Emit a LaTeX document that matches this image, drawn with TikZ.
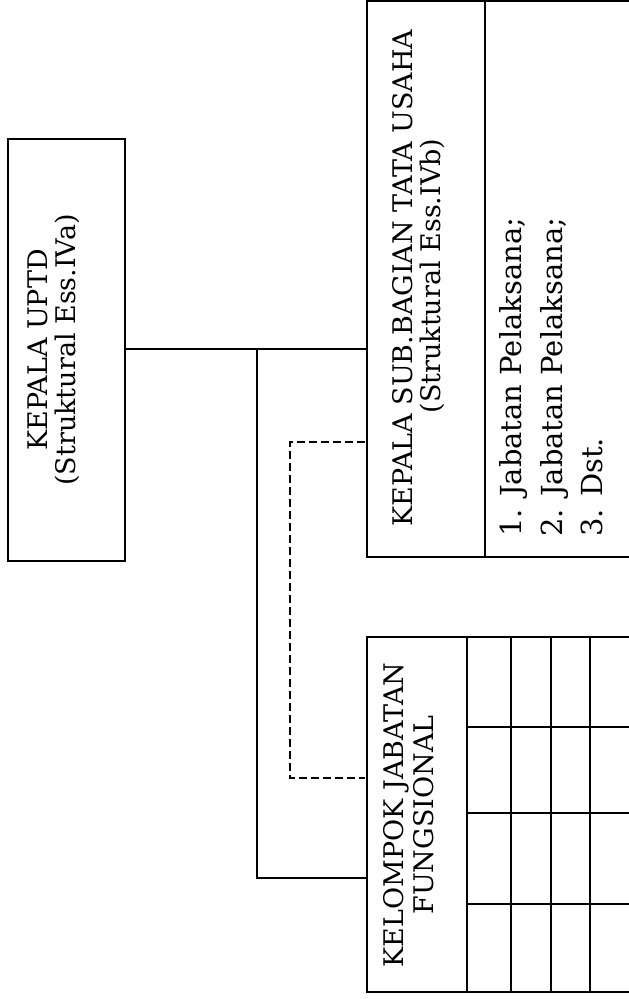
\documentclass[tikz,border=0pt]{standalone}
\usepackage{fontspec}
\setmainfont{DejaVu Serif}
\begin{document}
\begin{tikzpicture}[x=1pt,y=-1pt,
  box/.style={draw, line width=1.5pt, inner sep=0pt, outer sep=0pt, anchor=north west},
  link/.style={line width=1.4pt},
  dlink/.style={line width=1.4pt, dash pattern=on 8pt off 4pt},
  thick grid/.style={line width=2.6pt},
  hd/.style={rotate=90, anchor=base, font=\fontsize{27}{30}\selectfont, inner sep=0pt},
  li/.style={rotate=90, anchor=base west, font=\fontsize{29}{32}\selectfont, inner sep=0pt}]
\useasboundingbox (0,0) rectangle (629,999);
\begin{scope}
\clip (0,0) rectangle (629,999);
% boxes
\node[box, minimum width=117pt, minimum height=422pt] (uptd) at (8,139) {};
\node[box, minimum width=280pt, minimum height=556pt] (sub) at (367,1) {};
\node[box, minimum width=280pt, minimum height=355pt] (kel) at (367,637) {};
% sub divider
\draw[link] (485,1) -- (485,557);
% kel divider and grid
\draw[thick grid] (467,637) -- (467,992);
\draw[link] (511,637) -- (511,992);
\draw[link] (551,637) -- (551,992);
\draw[link] (590,637) -- (590,992);
\draw[link] (467,727) -- (647,727);
\draw[thick grid] (467,813) -- (647,813);
\draw[link] (467,904) -- (647,904);
\end{scope}
% connectors
\coordinate (j) at (257,349);
\coordinate (kj) at (367,878);
\coordinate (da) at (365,442);
\coordinate (db) at (365,778);
\draw[link] (uptd.east |- j) -- (sub.west |- j);
\draw[link] (j) |- (kj);
\draw[dlink] (da) -| (290,610) |- (db);
% texts
\node[hd] (t1) at (47,350) {KEPALA UPTD};
\node[hd] (t2) at (75,350) {(Struktural Ess.IVa)};
\node[hd] (t3) at (412,278) {KEPALA SUB.BAGIAN TATA USAHA};
\node[hd] (t4) at (440,276) {(Struktural Ess.IVb)};
\node[hd] (t5) at (403,815) {KELOMPOK JABATAN};
\node[hd] (t6) at (433,815) {FUNGSIONAL};
\node[li] (l1) at (521,537) {1. Jabatan Pelaksana;};
\node[li] (l2) at (562,537) {2. Jabatan Pelaksana;};
\node[li] (l3) at (602,537) {3. Dst.};
\end{tikzpicture}
\end{document}
